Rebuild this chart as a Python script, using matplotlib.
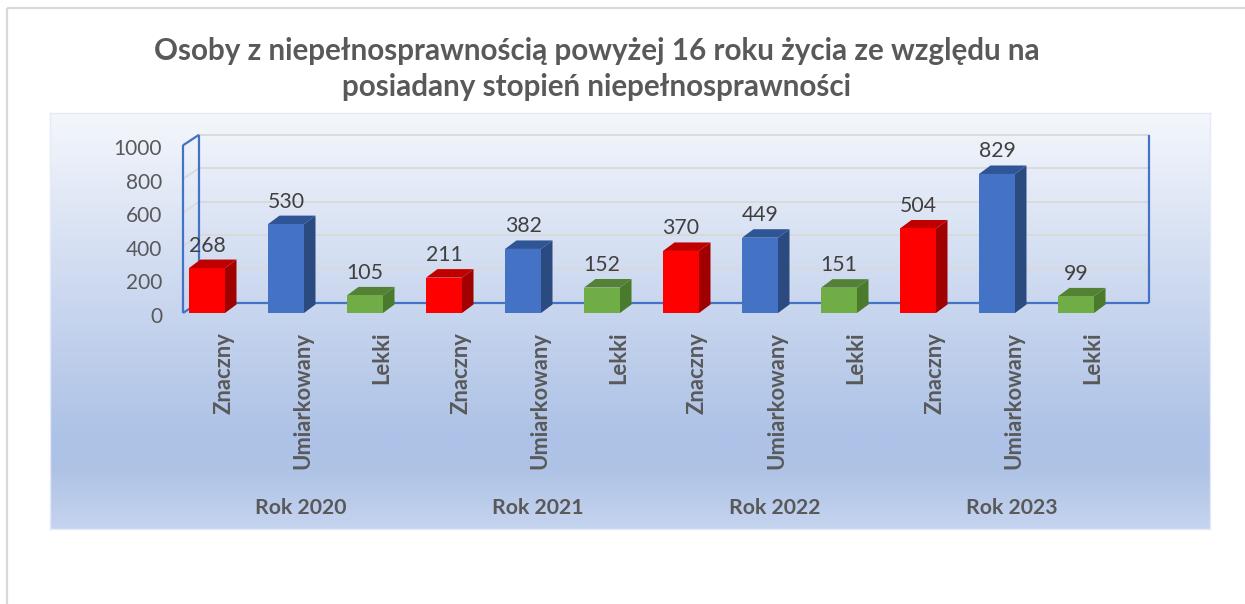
import numpy as np
import matplotlib
matplotlib.use("Agg")
import matplotlib.pyplot as plt
from matplotlib.patches import Polygon
from matplotlib.colors import LinearSegmentedColormap

# ---------------- data ----------------
years = ["Rok 2020", "Rok 2021", "Rok 2022", "Rok 2023"]
degrees = ["Znaczny", "Umiarkowany", "Lekki"]
values_znaczny = [268, 211, 370, 504]
values_umiark = [530, 382, 449, 829]
values_lekki = [105, 152, 151, 99]
y_ticks = [0, 200, 400, 600, 800, 1000]
title_lines = ["Osoby z niepełnosprawnością powyżej 16 roku życia ze względu na",
               "posiadany stopień niepełnosprawności"]

# ---------------- style ----------------
FONT = "Lato"
W, H, DPI = 1245, 604, 100
front_cols = {"Znaczny": "#FF0000", "Umiarkowany": "#4472C4", "Lekki": "#70AD47"}
side_cols = {"Znaczny": "#A00000", "Umiarkowany": "#2B4A80", "Lekki": "#4A7A2C"}
top_cols = {"Znaczny": "#C00000", "Umiarkowany": "#2F5597", "Lekki": "#548235"}
GRAY = "#595959"
DARK = "#404040"
AXBLUE = "#4472C4"
GRID = "#D9D9D9"

fig = plt.figure(figsize=(W / DPI, H / DPI), dpi=DPI)
fig.patch.set_facecolor("white")

def px_rect(x0, y0, x1, y1):
    """pixel box (top-left origin) -> figure fraction rect"""
    return [x0 / W, 1 - y1 / H, (x1 - x0) / W, (y1 - y0) / H]

# outer frame lines (document box)
fr = fig.add_axes([0, 0, 1, 1], zorder=0)
fr.set_xlim(0, W); fr.set_ylim(H, 0); fr.axis("off")
fr.plot([7, 7], [8, H], color=GRID, lw=1.6, solid_capstyle="butt")
fr.plot([7, W], [8, 8], color=GRID, lw=1.6, solid_capstyle="butt")

# gradient panel
bg = fig.add_axes(px_rect(50, 113, 1210, 529), zorder=1)
grad_cmap = LinearSegmentedColormap.from_list(
    "g", [(0.0, "#F4F7FC"), (0.45, "#CAD7EF"), (0.78, "#ADC2E6"),
          (0.86, "#AFC3E6"), (1.0, "#C5D4EF")])
bg.imshow(np.linspace(0, 1, 256).reshape(-1, 1), aspect="auto", cmap=grad_cmap,
          extent=[0, 1, 1, 0])
bg.set_xlim(0, 1); bg.set_ylim(1, 0)
for s in bg.spines.values():
    s.set_color("#E4EAF6"); s.set_linewidth(1.0)
bg.set_xticks([]); bg.set_yticks([])

# main axes: front plane of the 3-D plot
CAT_PX = 79.0           # pixel width of one category
X0_PX = 207.0           # pixel centre of the first bar
XL = (183 - X0_PX) / CAT_PX     # left front axis in data units
XR = (1133 - X0_PX) / CAT_PX    # right front edge in data units
ax_left, ax_right = 183, 1133
ax = fig.add_axes(px_rect(ax_left, 145.3, ax_right, 313), zorder=2)
ax.set_xlim(XL, XR)
ax.set_ylim(0, 1000)
ax.axis("off")
ax.patch.set_alpha(0)

PX_PER_UNIT = (313 - 145.3) / 1000.0
WDX = 16 / CAT_PX                 # wall depth (x)
WDY = 10.5 / PX_PER_UNIT          # wall depth (y)
BDX = 11.5 / CAT_PX               # bar depth (x)
BDY = 8.5 / PX_PER_UNIT           # bar depth (y)
BW = 36 / CAT_PX                  # bar width

# back-wall and side-wall grid lines
for v in y_ticks[1:]:
    ax.plot([XL + WDX, XR + WDX], [v + WDY, v + WDY], color=GRID, lw=1.3,
            clip_on=False, zorder=1)
    ax.plot([XL, XL + WDX], [v, v + WDY], color=GRID, lw=1.3,
            clip_on=False, zorder=1)

# blue wall outlines
blue_kw = dict(color=AXBLUE, lw=1.6, clip_on=False, zorder=2,
               solid_capstyle="butt")
ax.plot([XL, XL], [0, 1000], **blue_kw)
ax.plot([XL, XL + WDX], [1000, 1000 + WDY], **blue_kw)
ax.plot([XL, XL + WDX], [0, WDY], **blue_kw)
ax.plot([XL + WDX, XL + WDX], [WDY, 1000 + WDY], **blue_kw)
ax.plot([XR + WDX, XR + WDX], [WDY, 1000 + WDY], **blue_kw)
ax.plot([XL + WDX, XR + WDX], [WDY, WDY], **blue_kw)

# bars
series = {"Znaczny": values_znaczny, "Umiarkowany": values_umiark,
          "Lekki": values_lekki}
labels_fs = 15.3
idx = 0
for g, yr in enumerate(years):
    for d in degrees:
        v = series[d][g]
        x = float(idx)
        ax.bar([x], [v], width=BW, color=front_cols[d], zorder=4,
               clip_on=False, linewidth=0)
        side = Polygon([(x + BW / 2, 0), (x + BW / 2 + BDX, BDY),
                        (x + BW / 2 + BDX, v + BDY), (x + BW / 2, v)],
                       closed=True, facecolor=side_cols[d], edgecolor="none",
                       zorder=3, clip_on=False)
        top = Polygon([(x - BW / 2, v), (x + BW / 2, v),
                       (x + BW / 2 + BDX, v + BDY), (x - BW / 2 + BDX, v + BDY)],
                      closed=True, facecolor=top_cols[d], edgecolor="none",
                      zorder=3, clip_on=False)
        ax.add_patch(side); ax.add_patch(top)
        ax.annotate(str(v), xy=(x, v), xytext=(0, 16.5),
                    textcoords="offset pixels", ha="center", va="baseline",
                    fontsize=labels_fs, color=DARK, family=FONT,
                    annotation_clip=False)
        ax.annotate(d, xy=(x, 0), xytext=(16.5, -19),
                    textcoords="offset pixels", ha="center", va="top",
                    rotation=90, fontsize=15.8, color=GRAY, family=FONT,
                    fontweight="bold", annotation_clip=False)
        idx += 1
    ax.annotate(yr, xy=(g * 3 + 1, 0), xytext=(15, -195),
                textcoords="offset pixels", ha="center", va="center",
                fontsize=15.3, color=GRAY, family=FONT, fontweight="bold",
                annotation_clip=False)

# y tick labels
for v in y_ticks:
    ax.annotate(str(v), xy=(XL, v), xytext=(-21, -4),
                textcoords="offset pixels", ha="right", va="center",
                fontsize=15.0, color=GRAY, family=FONT,
                annotation_clip=False)

# title
fig.text(597 / W, 1 - 60 / H, title_lines[0], ha="center", va="baseline",
         fontsize=21.3, fontweight="bold", color=GRAY, family=FONT, zorder=5)
fig.text(597 / W, 1 - 96 / H, title_lines[1], ha="center", va="baseline",
         fontsize=21.3, fontweight="bold", color=GRAY, family=FONT, zorder=5)

fig.savefig("out.png", dpi=DPI)
